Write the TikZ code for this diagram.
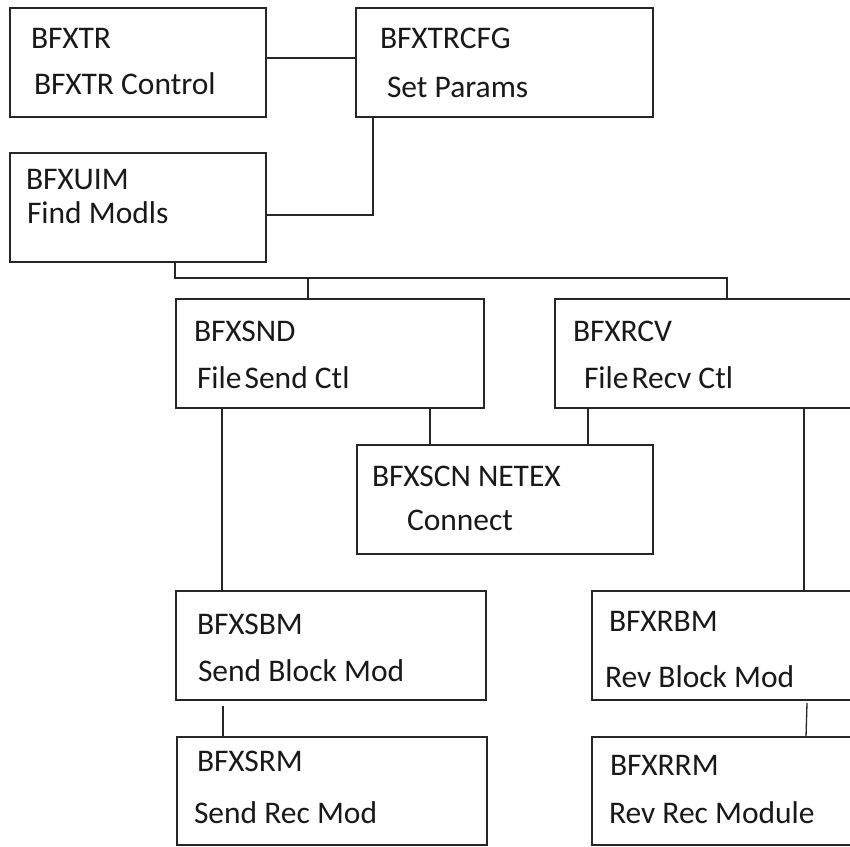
\documentclass[tikz,border=0pt]{standalone}
\usepackage{fontspec}
\setmainfont{Carlito}
\usetikzlibrary{calc}
\tikzset{
  box/.style={draw=black!85, line width=1.3pt, rectangle, inner sep=0pt, outer sep=0pt, anchor=north west},
  lab/.style={anchor=base west, inner sep=0pt, outer sep=0pt, text=black!90, font=\fontsize{31.5}{31.5}\selectfont},
  wire/.style={draw=black!85, line width=1.3pt}
}
\begin{document}
\begin{tikzpicture}[x=1pt,y=-1pt]
\useasboundingbox (0,0) rectangle (850,846);
\fill[white] (0,0) rectangle (850,846);
% boxes
\node[box, minimum width=256pt, minimum height=109pt] (tr)  at (10,8) {};
\node[box, minimum width=297pt, minimum height=109pt] (cfg) at (356,8) {};
\node[box, minimum width=256pt, minimum height=109pt] (uim) at (10,153) {};
\node[box, minimum width=308pt, minimum height=109pt] (snd) at (176,299) {};
\node[box, minimum width=310pt, minimum height=109pt] (rcv) at (555,299) {};
\node[box, minimum width=296pt, minimum height=109pt] (scn) at (357,445) {};
\node[box, minimum width=310pt, minimum height=109pt] (sbm) at (176,591) {};
\node[box, minimum width=310pt, minimum height=108pt] (srm) at (177,737) {};
\node[box, minimum width=270pt, minimum height=109pt] (rbm) at (592,591) {};
\node[box, minimum width=270pt, minimum height=108pt] (rrm) at (592,737) {};
% labels
\node[lab] (trA)  at (31,48)  {BFXTR};
\node[lab] (trB)  at (34,94)  {BFXTR Control};
\node[lab] (cfgA) at (380,48) {BFXTRCFG};
\node[lab] (cfgB) at (387,97) {Set Params};
\node[lab] (uimA) at (26,189) {BFXUIM};
\node[lab] (uimB) at (27,223) {Find Modls};
\node[lab] (sndA) at (194,341) {BFXSND};
\node[lab] (sndB) at (197,388) {File\hspace{3pt}Send Ctl};
\node[lab] (rcvA) at (573,341) {BFXRCV};
\node[lab] (rcvB) at (584,388) {File\hspace{3pt}Recv Ctl};
\node[lab] (scnA) at (372,486) {BFXSCN NETEX};
\node[lab] (scnB) at (407,530) {Connect};
\node[lab] (sbmA) at (197,634) {BFXSBM};
\node[lab] (sbmB) at (198,681) {Send Block Mod};
\node[lab] (srmA) at (197,771) {BFXSRM};
\node[lab] (srmB) at (194,823) {Send Rec Mod};
\node[lab] (rbmA) at (609,631) {BFXRBM};
\node[lab] (rbmB) at (605,687) {Rev Block Mod};
\node[lab] (rrmA) at (610,775) {BFXRRM};
\node[lab] (rrmB) at (609,823) {Rev Rec Module};
% connectors
\coordinate (busy) at (0,278);
\draw[wire] ($(tr.north east)+(0,50)$) coordinate (c1) -- (c1 -| cfg.west);
\coordinate (k) at ($(cfg.south west)+(17,0)$);
\draw[wire] ($(uim.north east)+(0,62)$) coordinate (c2) -| (k);
\coordinate (a) at ($(uim.south west)+(165,0)$);
\coordinate (b) at ($(rcv.north west)+(172,0)$);
\draw[wire] (a) -- (a |- busy) -- (b |- busy) -- (b);
\draw[wire] ($(snd.north west)+(132,0)$) coordinate (d) -- (d |- busy);
\draw[wire] ($(snd.south west)+(254,0)$) coordinate (e) -- (e |- scn.north);
\draw[wire] ($(rcv.south west)+(33,0)$) coordinate (f) -- (f |- scn.north);
\draw[wire] ($(snd.south west)+(46,0)$) coordinate (g) -- (g |- sbm.north);
\draw[wire] ($(rcv.south west)+(249,0)$) coordinate (h) -- (h |- rbm.north);
\draw[wire] ($(sbm.south west)+(47,6)$) coordinate (i) -- (i |- srm.north);
\draw[wire] ($(rbm.south west)+(215,3)$) -- ($(rrm.north west)+(214,0)$);
\end{tikzpicture}
\end{document}
